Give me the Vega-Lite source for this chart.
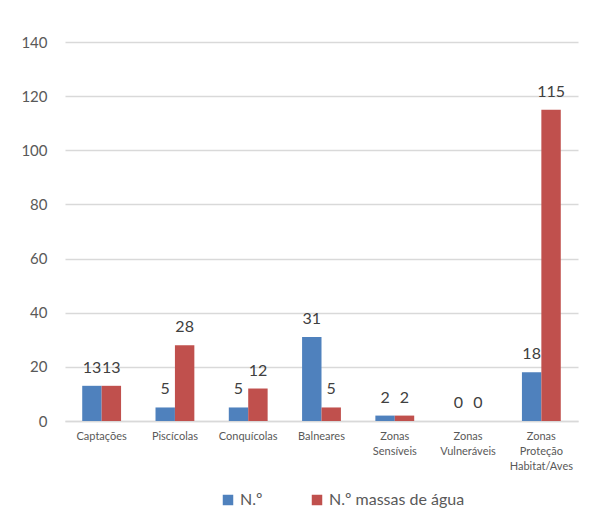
{
  "$schema": "https://vega.github.io/schema/vega-lite/v6.json",
  "autosize": {"type": "none"},
  "width": 513,
  "height": 379,
  "padding": {"left": 65, "top": 42, "right": 17, "bottom": 87},
  "background": "white",
  "config": {
    "view": {"stroke": null},
    "font": "Lato",
    "text": {"font": "Lato"}
  },
  "data": {
    "values": [
      {"cat": "Captações", "serie": "N.º", "v": 13},
      {"cat": "Captações", "serie": "N.º massas de água", "v": 13},
      {"cat": "Piscícolas", "serie": "N.º", "v": 5},
      {"cat": "Piscícolas", "serie": "N.º massas de água", "v": 28},
      {"cat": "Conquícolas", "serie": "N.º", "v": 5},
      {"cat": "Conquícolas", "serie": "N.º massas de água", "v": 12},
      {"cat": "Balneares", "serie": "N.º", "v": 31},
      {"cat": "Balneares", "serie": "N.º massas de água", "v": 5},
      {"cat": "Zonas|Sensíveis", "serie": "N.º", "v": 2},
      {"cat": "Zonas|Sensíveis", "serie": "N.º massas de água", "v": 2},
      {"cat": "Zonas|Vulneráveis", "serie": "N.º", "v": 0},
      {"cat": "Zonas|Vulneráveis", "serie": "N.º massas de água", "v": 0},
      {"cat": "Zonas|Proteção|Habitat/Aves", "serie": "N.º", "v": 18},
      {"cat": "Zonas|Proteção|Habitat/Aves", "serie": "N.º massas de água", "v": 115}
    ]
  },
  "encoding": {
    "x": {
      "field": "cat", "type": "nominal", "sort": null,
      "scale": {"paddingInner": 0.47, "paddingOuter": 0.235},
      "axis": {
        "title": null, "labelAngle": 0, "ticks": false,
        "domainColor": "#D9D9D9", "domainWidth": 1.3,
        "labelExpr": "split(datum.label, '|')",
        "labelFont": "Lato", "labelFontSize": 11, "labelColor": "#595959",
        "labelPadding": 9, "labelLineHeight": 15, "labelBaseline": "top"
      }
    },
    "xOffset": {"field": "serie", "type": "nominal", "scale": {"paddingInner": 0}},
    "y": {
      "field": "v", "type": "quantitative",
      "scale": {"domain": [0, 140], "nice": false},
      "axis": {
        "title": null, "values": [0, 20, 40, 60, 80, 100, 120, 140],
        "domain": false, "ticks": false,
        "gridColor": "#D9D9D9", "gridWidth": 1.3,
        "labelFont": "Lato", "labelFontSize": 15, "labelColor": "#595959",
        "labelPadding": 18
      }
    }
  },
  "layer": [
    {
      "mark": {"type": "bar"},
      "encoding": {
        "color": {
          "field": "serie", "type": "nominal",
          "scale": {"domain": ["N.º", "N.º massas de água"], "range": ["#4F81BD", "#C0504D"]},
          "legend": {
            "title": null, "orient": "none", "direction": "horizontal",
            "legendX": 155, "legendY": 450,
            "symbolType": "square", "symbolSize": 110, "symbolStrokeWidth": 0,
            "labelFont": "Lato", "labelFontSize": 16, "labelColor": "#595959",
            "columnPadding": 46, "labelOffset": 4
          }
        }
      }
    },
    {
      "mark": {"type": "text", "baseline": "alphabetic", "dy": -13, "fontSize": 16, "color": "#404040"},
      "encoding": {
        "text": {"field": "v", "type": "quantitative"}
      }
    }
  ]
}
